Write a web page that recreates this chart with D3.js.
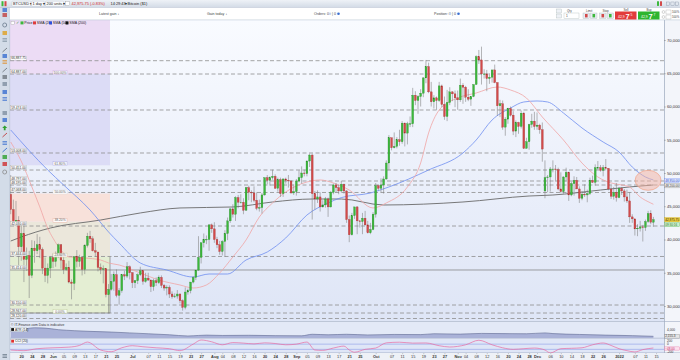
<!DOCTYPE html>
<html><head><meta charset="utf-8">
<script src="https://cdn.jsdelivr.net/npm/d3@7"></script>
<style>
html,body{margin:0;padding:0;background:#fff;}
svg{display:block;font-family:"Liberation Sans",Arial,sans-serif;}
</style></head><body>
<svg id="chart" width="680" height="360"></svg>
<script>
// ---------------- DATA ----------------
const firstCandle = "2021-05-16";   // daily candles, one per calendar day
const opens = [
46800,44500,42700,42900,38900,40900,37000,37600,34600,38700,38300,39200,38500,35700,34600,35700,
37300,36700,37600,39200,36900,35500,35800,33600,33400,37400,36700,37300,35500,39100,40500,40100,38300,38100,35800,35500,35600,31700,32500,33700,34700,31600,32300,34700,34500,35900,
35000,33500,33800,34700,35300,33700,34200,33900,32900,33800,33500,34300,33100,32700,32800,31800,31400,31500,31800,30800,29800,32100,32300,33600,34300,35400,37300,39500,40000,40000,42200,
41600,40000,39200,38200,39700,40900,42800,44600,43800,46300,45600,45600,44400,47800,47100,47000,45900,44700,44800,46700,49300,48900,49300,49500,47700,49000,46900,49100,48900,48800,47000,
47200,48800,49300,50000,49900,51800,52700,46900,46100,46400,44900,45200,46100,44900,47100,48200,47800,47300,48300,47300,43000,40700,43600,44900,42800,42700,43200,42200,41000,41500,
43800,48100,47700,48200,49100,51500,55300,53800,54000,55000,54700,57500,56000,57400,57400,61700,60900,61500,62000,64300,66000,62200,60700,61300,60900,63100,60300,58500,60600,62200,61900,
61300,61000,63200,62900,61400,61100,61500,63300,67500,67000,64900,64900,64200,64400,65500,63600,60100,60400,56900,58100,59700,58700,56300,57600,57000,59000,53700,54700,57300,57800,
57000,57200,56500,47300,49300,49400,50600,50600,50500,47600,47200,49400,50100,46700,48400,48900,47600,46200,46800,46700,46900,48900,48600,50800,50800,50400,50800,50700,47600,46500,47100,
46300,47700,47300,46400,45800,43400,43100,41600,41700,41900,41800,42700,43900,42600];
const highs = [
49700,46000,45800,43500,42400,42200,38800,38300,39900,39800,40800,40400,38800,37300,36400,37500,
37900,38200,39400,39300,37900,36400,36800,34000,37500,38400,37700,37500,39300,41000,41300,40500,39500,38200,36400,36100,35700,33300,34800,35200,35500,32700,34700,35300,36600,36100,
35100,33900,34900,35900,35400,35000,35000,34000,34100,34300,34600,34600,33300,33100,33100,32200,31900,32400,31900,31000,32800,32600,33600,34500,35400,40500,39500,40900,40600,42300,42400,
42600,40400,39800,39900,41400,43300,44700,45300,46500,46700,46800,46200,47900,48100,47400,48000,47100,46000,47000,49300,49700,49500,50500,49800,49300,49300,49200,49300,49700,48900,48300,
49100,50400,51000,50500,51900,52900,52900,47300,47400,47100,45900,46400,46300,47300,48400,48500,48200,48800,48400,47400,43600,44000,44900,45000,42900,44000,44300,42800,42500,44100,
48500,48300,49200,49500,51900,55700,55300,56100,55400,56500,57800,57600,57700,58500,62800,62300,61700,62600,64400,67000,66600,63700,61700,61500,63700,63300,61500,62500,62900,62300,62400,
62400,64200,63500,63100,62600,61500,63300,67700,68500,69000,65600,65500,65000,65500,66300,63600,61000,60900,58400,59800,60000,59300,57900,57700,59400,59200,55300,57400,58900,59200,
59100,57400,57600,51900,49700,50900,51900,51200,50800,50100,49500,50800,50200,48700,49500,49400,48000,47300,48300,47500,49300,49600,51300,51800,51200,51200,52100,50700,48100,47900,48500,
47900,47900,47600,47500,47100,43800,43100,42300,42800,42200,43000,44300,44400,43400];
const lows = [
43800,42100,42200,35800,36800,33600,35300,31200,34200,36500,37800,37200,34800,33600,33400,34200,
35700,35900,37200,35600,34800,35300,33400,31000,32400,35800,35900,34600,34800,38800,39500,38200,37400,35200,34800,33400,31300,28900,32300,32300,31300,30200,32000,33900,34200,34000,
32700,32700,33300,34500,33200,33500,33800,32100,32300,33000,33300,32700,32300,31600,31200,31100,31200,31100,30400,29300,29500,31700,31900,33400,33900,35300,36400,38800,39300,38300,41000,
39500,38700,37700,37600,37400,39900,42500,43300,42800,44700,45400,43800,44300,45900,45600,45600,44400,44200,43900,46600,48300,48100,49000,47600,47200,46400,46400,48400,47800,46900,46700,
46600,48600,48400,49500,49500,50900,43000,44500,45500,44200,44800,44800,43400,44800,46800,47100,46800,47100,46900,42500,39600,40600,43100,40800,41800,40800,42100,40900,40800,41400,
43300,47400,47100,46900,49000,50400,53400,53700,53700,54100,54400,54000,54300,56900,56900,60200,58900,60000,61400,63500,62000,60000,59700,59500,60700,59900,58000,57800,60200,60800,59900,
59500,60700,60400,60700,60800,60100,61400,63300,66400,63300,64200,62300,63400,63600,63500,58600,58400,56500,55600,57400,58500,55700,55400,55900,56700,53600,53700,53500,56800,56500,
56500,55900,51700,46200,47100,47200,50100,48700,47400,47000,46900,48700,45800,46500,46600,47600,45500,45900,46400,45600,46700,48500,48100,50500,50200,49500,50500,47400,46100,46000,45700,
46200,46700,45700,45500,42500,42500,40600,40500,41200,39700,41300,42500,42300,41900];
const closes = [
44500,42700,42900,38900,40900,37000,37600,34600,38700,38300,39200,38500,35700,34600,35700,37300,
36700,37600,39200,36900,35500,35800,33600,33400,37400,36700,37300,35500,39100,40500,40100,38300,38100,35800,35500,35600,31700,32500,33700,34700,31600,32300,34700,34500,35900,35000,
33500,33800,34700,35300,33700,34200,33900,32900,33800,33500,34300,33100,32700,32800,31800,31400,31500,31800,30800,29800,32100,32300,33600,34300,35400,37300,39500,40000,40000,42200,41600,
40000,39200,38200,39700,40900,42800,44600,43800,46300,45600,45600,44400,47800,47100,47000,45900,44700,44800,46700,49300,48900,49300,49500,47700,49000,46900,49100,48900,48800,47000,47200,
48800,49300,50000,49900,51800,52700,46900,46100,46400,44900,45200,46100,44900,47100,48200,47800,47300,48300,47300,43000,40700,43600,44900,42800,42700,43200,42200,41000,41500,43800,
48100,47700,48200,49100,51500,55300,53800,54000,55000,54700,57500,56000,57400,57400,61700,60900,61500,62000,64300,66000,62200,60700,61300,60900,63100,60300,58500,60600,62200,61900,61300,
61000,63200,62900,61400,61100,61500,63300,67500,67000,64900,64900,64200,64400,65500,63600,60100,60400,56900,58100,59700,58700,56300,57600,57000,59000,53700,54700,57300,57800,57000,
57200,56500,53600,49300,49400,50600,50600,50500,47600,47200,49400,50100,46700,48400,48900,47600,46200,46800,46700,46900,48900,48600,50800,50800,50400,50800,50700,47600,46500,47100,46300,
47700,47300,46400,45800,43400,43100,41600,41700,41900,41800,42700,43900,42600,42975.75];

// moving averages
const sma20Dates = ["2021-05-16","2021-05-21","2021-05-23","2021-05-27","2021-05-30","2021-06-01","2021-06-04","2021-06-07","2021-06-13","2021-06-19","2021-06-22","2021-06-26","2021-07-04","2021-07-11","2021-07-19","2021-07-24","2021-07-29","2021-08-03","2021-08-08","2021-08-13","2021-08-18","2021-08-23","2021-08-28","2021-09-05","2021-09-10","2021-09-15","2021-09-21","2021-09-30","2021-10-05","2021-10-13","2021-10-18","2021-10-21","2021-10-25","2021-11-01","2021-11-08","2021-11-16","2021-11-21","2021-11-27","2021-12-03","2021-12-11","2021-12-18","2021-12-24","2021-12-29","2022-01-02","2022-01-05","2022-01-09","2022-01-13","2022-01-14"];
const sma20 = [54660,50900,48900,44900,41700,40200,38420,37370,37220,36920,36470,36170,34960,33910,33160,32710,33160,34960,37370,39930,43380,45490,47140,48650,48950,48500,47440,44740,45490,47900,51500,56020,59470,61280,62030,62930,62480,61280,58420,54960,51500,49400,48500,48200,47900,46390,45490,45300];
const sma50Dates = ["2021-05-16","2021-05-30","2021-06-05","2021-06-15","2021-06-22","2021-06-26","2021-07-04","2021-07-14","2021-07-24","2021-07-30","2021-08-06","2021-08-13","2021-08-21","2021-08-28","2021-09-05","2021-09-13","2021-09-18","2021-09-29","2021-10-06","2021-10-21","2021-11-03","2021-11-08","2021-11-14","2021-11-21","2021-11-26","2021-12-01","2021-12-05","2021-12-11","2021-12-18","2021-12-26","2022-01-01","2022-01-06","2022-01-11","2022-01-14"];
const sma50 = [56470,50450,48200,44440,41130,39470,36470,35410,34360,34810,34810,36920,38120,40230,43680,45490,46300,46990,47900,50450,53010,54960,57970,59770,60680,60830,60680,59020,56770,54660,53160,50900,49400,48950];
const sma200Dates = ["2021-05-16","2021-05-20","2021-05-31","2021-06-19","2021-07-04","2021-07-19","2021-08-08","2021-08-23","2021-09-07","2021-09-18","2021-10-04","2021-11-03","2021-11-28","2021-12-07","2021-12-25","2022-01-05","2022-01-14"];
const sma200 = [39770,40380,41730,42930,43990,44740,44890,45640,46090,46090,45190,45640,46540,46690,47440,47900,48200];

const atrDates = ["2021-05-16","2021-05-19","2021-05-22","2021-05-25","2021-05-29","2021-06-03","2021-06-09","2021-06-15","2021-06-23","2021-06-30","2021-07-07","2021-07-15","2021-07-22","2021-07-26","2021-07-29","2021-08-04","2021-08-14","2021-08-24","2021-09-03","2021-09-07","2021-09-13","2021-09-20","2021-09-28","2021-10-08","2021-10-18","2021-10-23","2021-11-02","2021-11-10","2021-11-17","2021-11-27","2021-12-04","2021-12-07","2021-12-17","2021-12-27","2022-01-06","2022-01-14"];
const atr = [3600,3900,4400,4650,4550,4100,3800,3600,3400,3150,2900,2600,2250,2400,2500,2400,2450,2350,2300,2750,2600,2750,2550,2700,2650,2900,2800,3000,2950,2900,3150,2950,2700,2500,2350,2155.3];
const cciDates = ["2021-05-16","2021-05-21","2021-05-26","2021-06-01","2021-06-07","2021-06-11","2021-06-14","2021-06-19","2021-06-23","2021-06-27","2021-07-01","2021-07-05","2021-07-10","2021-07-15","2021-07-19","2021-07-24","2021-07-27","2021-07-31","2021-08-04","2021-08-08","2021-08-12","2021-08-16","2021-08-20","2021-08-24","2021-08-28","2021-09-01","2021-09-05","2021-09-08","2021-09-11","2021-09-15","2021-09-19","2021-09-21","2021-09-23","2021-09-27","2021-10-01","2021-10-05","2021-10-10","2021-10-15","2021-10-20","2021-10-25","2021-10-29","2021-11-04","2021-11-09","2021-11-14","2021-11-18","2021-11-22","2021-11-26","2021-11-30","2021-12-04","2021-12-06","2021-12-10","2021-12-14","2021-12-18","2021-12-22","2021-12-26","2021-12-29","2022-01-01","2022-01-04","2022-01-07","2022-01-10","2022-01-14"];
const cci = [-125,-150,-75,-40,-15,50,180,-125,-190,-40,40,0,-40,-75,-150,100,260,190,75,160,140,110,150,125,75,100,180,-125,-140,-50,25,-125,-210,-100,-50,150,175,140,145,40,-10,75,250,75,-40,-100,-75,-50,-125,-240,-75,-60,-40,75,145,50,-75,-150,-200,-110,-48];

// horizontal levels drawn on the chart
const levelValues = [66887.75,64887.00,59474.00,53008.00,50451.00,48797.00,48195.00,47068.00,42030.00,37444.00,30150.00,28947.00,28120.00];
const solidLevel = [35414.00];
const fibValues = [28947,37429,42676,46917,51158,64887];
const fibLabels = ["0.00%","23.60%","38.20%","50.00%","61.80%","100.00%"];
const fibColors = ["#e4eed3","#ebe7db","#f8e1da",null,"#dcdcf6","#ecdcf5"];
const fibStroke = ["#b8c890","#cfc39a","#eab0a0","#ddd","#a8a8e0","#c8a8e0"];
const fibStart = "2021-05-16", fibEnd = "2021-06-22";

const priceTicks = [30000,35000,40000,45000,50000,55000,60000,65000,70000];
const xTickDates = ["2021-05-20","2021-05-24","2021-05-28","2021-06-01","2021-06-05","2021-06-09","2021-06-13","2021-06-17","2021-06-21","2021-06-25","2021-07-01","2021-07-07","2021-07-11","2021-07-15","2021-07-19","2021-07-23","2021-07-27","2021-08-01","2021-08-04","2021-08-08","2021-08-12","2021-08-16","2021-08-20","2021-08-24","2021-08-28","2021-09-01","2021-09-05","2021-09-09","2021-09-13","2021-09-17","2021-09-21","2021-09-25","2021-10-01","2021-10-07","2021-10-11","2021-10-15","2021-10-19","2021-10-23","2021-10-27","2021-11-01","2021-11-04","2021-11-08","2021-11-12","2021-11-16","2021-11-20","2021-11-24","2021-11-28","2021-12-01","2021-12-06","2021-12-10","2021-12-14","2021-12-18","2021-12-22","2021-12-26","2022-01-01","2022-01-07","2022-01-11","2022-01-15"];
const xTickLabels = ["20","24","28","Jun","05","09","13","17","21","25","Jul","07","11","15","19","23","27","Aug","04","08","12","16","20","24","28","Sep","05","09","13","17","21","25","Oct","07","11","15","19","23","27","Nov","04","08","12","16","20","24","28","Dec","06","10","14","18","22","26","2022","07","11","15"];
const highlight = {date:"2022-01-12", value:48900};

// ---------------- DRAWING ----------------
const parse = d3.utcParse("%Y-%m-%d");
const svg = d3.select("#chart");
const defs = svg.append("defs");
const P = {x0:10, x1:664, y0:20, y1:321};

const g1 = defs.append("linearGradient").attr("id","plotbg").attr("x1",0).attr("y1",0).attr("x2",0).attr("y2",1);
g1.append("stop").attr("offset","0%").attr("stop-color","#f9fbff");
g1.append("stop").attr("offset","100%").attr("stop-color","#dee5f6");
const g2 = defs.append("linearGradient").attr("id","topbg").attr("x1",0).attr("y1",0).attr("x2",0).attr("y2",1);
g2.append("stop").attr("offset","0%").attr("stop-color","#eef2f7");
g2.append("stop").attr("offset","100%").attr("stop-color","#d3dbe6");
defs.append("clipPath").attr("id","clip").append("rect").attr("x",P.x0).attr("y",P.y0).attr("width",P.x1-P.x0).attr("height",P.y1-P.y0);
defs.append("clipPath").attr("id","clipL").append("rect").attr("x",P.x0).attr("y",322).attr("width",P.x1-P.x0).attr("height",31);

const t0 = parse(firstCandle);
const candles = opens.map((o,i)=>({d:d3.utcDay.offset(t0,i),o,h:highs[i],l:lows[i],c:closes[i]}));
const x = d3.scaleUtc().domain([parse("2021-05-16"),parse("2022-01-14")]).range([10.7,653.4]);
const y = d3.scaleLinear().domain([30000,70000]).range([306,40]);
const yAtr = d3.scaleLinear().domain([2155.3,4000]).range([336.3,330]);
const yCci = d3.scaleLinear().domain([-100,100]).range([349.35,344.15]);

// page frame
svg.append("rect").attr("width",680).attr("height",360).attr("fill","#e9edf4");
svg.append("rect").attr("x",P.x0).attr("y",P.y0).attr("width",P.x1-P.x0).attr("height",P.y1-P.y0).attr("fill","url(#plotbg)");

// fib zones
const fx0 = x(parse(fibStart))-0.7, fx1 = 110;
const fibG = svg.append("g");
const zoneTops = fibValues.map((v,i)=> i<fibValues.length-1 ? y(fibValues[i+1]) : P.y0);
fibValues.forEach((v,i)=>{
  if(!fibColors[i]) return;
  fibG.append("rect").attr("x",fx0).attr("y",zoneTops[i]).attr("width",fx1-fx0).attr("height",y(v)-zoneTops[i]).attr("fill",fibColors[i]);
});
fibG.append("path").attr("d",`M${fx0},${y(fibValues[0])}H${fx1}V${y(fibValues[1])}`).attr("fill","none").attr("stroke","#6d6d6d").attr("stroke-width",0.6);

// level lines
const lg = svg.append("g");
lg.selectAll("line.lv").data(levelValues).join("line")
  .attr("x1",P.x0).attr("x2",P.x1).attr("y1",d=>y(d)).attr("y2",d=>y(d))
  .attr("stroke","#8e8e8e").attr("stroke-width",0.8).attr("stroke-dasharray","4,2.5");
lg.selectAll("line.sl").data(solidLevel).join("line")
  .attr("x1",P.x0).attr("x2",P.x1).attr("y1",d=>y(d)).attr("y2",d=>y(d))
  .attr("stroke","#7a7a7a").attr("stroke-width",0.7);

// moving averages
const mk = (dates,vals)=>dates.map((d,i)=>({d:parse(d),v:vals[i]}));
const line = d3.line().x(d=>x(d.d)).y(d=>y(d.v)).curve(d3.curveMonotoneX);
const cg = svg.append("g").attr("clip-path","url(#clip)");
cg.append("path").datum(mk(sma200Dates,sma200)).attr("d",line).attr("fill","none").attr("stroke","#6a6a6a").attr("stroke-width",0.9);
cg.append("path").datum(mk(sma50Dates,sma50)).attr("d",line).attr("fill","none").attr("stroke","#6f8ef0").attr("stroke-width",0.8);
cg.append("path").datum(mk(sma20Dates,sma20)).attr("d",line).attr("fill","none").attr("stroke","#f0a4a4").attr("stroke-width",0.8);

// candles
const bw = 1.8;
cg.selectAll("line.wick").data(candles).join("line")
  .attr("x1",d=>x(d.d)).attr("x2",d=>x(d.d)).attr("y1",d=>y(d.h)).attr("y2",d=>y(d.l))
  .attr("stroke","#7b7b7b").attr("stroke-width",0.55);
cg.selectAll("rect.body").data(candles).join("rect")
  .attr("x",d=>x(d.d)-bw/2).attr("y",d=>y(Math.max(d.o,d.c)))
  .attr("width",bw).attr("height",d=>Math.max(0.5,Math.abs(y(d.o)-y(d.c))))
  .attr("fill",d=>d.c>=d.o?"#3cb83c":"#d24a4a")
  .attr("stroke",d=>d.c>=d.o?"#268a26":"#a53030").attr("stroke-width",0.3);

// highlight ellipse
svg.append("ellipse").attr("cx",x(parse(highlight.date))).attr("cy",y(highlight.value)).attr("rx",13).attr("ry",10)
  .attr("fill","rgba(247,180,160,0.5)").attr("stroke","#f0a488").attr("stroke-width",0.7);

// left level labels
const lab = svg.append("g").attr("font-size",3.3).attr("fill","#333");
[...levelValues,...solidLevel].forEach(v=>{
  const yy = y(v)-2.6;
  lab.append("rect").attr("x",10.5).attr("y",yy-2).attr("width",16).attr("height",4).attr("fill","#fff").attr("stroke","#9a9a9a").attr("stroke-width",0.3);
  lab.append("text").attr("x",11.2).attr("y",yy+1.2).text(d3.format(",.2f")(v));
});
fibValues.forEach((v,i)=>{
  const yy = y(v)-1.5;
  lab.append("rect").attr("x",53).attr("y",yy-2).attr("width",14).attr("height",4).attr("fill","rgba(255,255,255,0.85)").attr("stroke",fibStroke[i]).attr("stroke-width",0.4);
  lab.append("text").attr("x",60).attr("y",yy+1.2).attr("text-anchor","middle").attr("fill","#666").text(fibLabels[i]);
});

// legend
const leg = svg.append("g").attr("font-size",3.6).attr("fill","#222");
leg.append("rect").attr("x",11).attr("y",21.3).attr("width",3.2).attr("height",3.2).attr("fill","#fff").attr("stroke","#888").attr("stroke-width",0.3);
leg.append("text").attr("x",15.6).attr("y",24.4).attr("fill","#4a9a4a").text("✓");
[["Price","#3cb83c",20.5],["SMA (20)","#e03c3c",33],["SMA (50)","#2f4fe0",49],["SMA (200)","#111",65.5]].forEach(([t,c,xx])=>{
  leg.append("rect").attr("x",xx).attr("y",21.4).attr("width",3).attr("height",3).attr("fill",c);
  leg.append("text").attr("x",xx+3.8).attr("y",24.4).text(t);
});

// right axis strip
svg.append("rect").attr("x",P.x1).attr("y",P.y0).attr("width",16).attr("height",333).attr("fill","#f3f5fa");
const ra = svg.append("g").attr("transform",`translate(${P.x1},0)`)
  .call(d3.axisRight(y).tickValues(priceTicks).tickSize(1.8).tickPadding(1.2).tickFormat(d3.format(",")));
ra.select(".domain").attr("stroke","#9aa7bb").attr("stroke-width",0.7).attr("d",`M0.5,${P.y0}V${353}`);
ra.selectAll(".tick line").attr("stroke","#666").attr("stroke-width",0.4);
ra.selectAll("text").attr("font-size",4.2).attr("fill","#333").attr("font-family","Liberation Sans, Arial, sans-serif");

function axisTag(yy,txt,fill,stroke,col,h){
  h = h||4.2;
  const gg = svg.append("g");
  gg.append("rect").attr("x",P.x1+0.8).attr("y",yy-h/2).attr("width",15).attr("height",h).attr("fill",fill).attr("stroke",stroke).attr("stroke-width",0.35);
  gg.append("text").attr("x",P.x1+1.3).attr("y",yy+1.1).attr("font-size",3.05).attr("fill",col).text(txt);
}
axisTag(y(sma50[sma50.length-1])+0.5,d3.format(",.2f")(sma50[sma50.length-1]),"#e6ecff","#6f8ef0","#2a48c8");
axisTag(y(sma200[sma200.length-1])+0.8,d3.format(",.2f")(sma200[sma200.length-1]),"#efefef","#888","#333");
const lastC = closes[closes.length-1];
axisTag(y(lastC),d3.format(",.2f")(lastC),"#f2d038","#c9a810","#222");
axisTag(y(lastC)+5,"09:30:16","#cdeecd","#5cb85c","#2a7a2a");

// lower panes
svg.append("rect").attr("x",P.x0).attr("y",322).attr("width",P.x1-P.x0).attr("height",16).attr("fill","#e3e9f7");
svg.append("rect").attr("x",P.x0).attr("y",338.5).attr("width",P.x1-P.x0).attr("height",14.5).attr("fill","#dfe6f7");
[321.5,338.2,352.8].forEach(yy=>svg.append("line").attr("x1",P.x0).attr("x2",680).attr("y1",yy).attr("y2",yy).attr("stroke","#9fabc2").attr("stroke-width",0.6));
const lo = svg.append("g").attr("clip-path","url(#clipL)");
const atrArea = d3.area().x(d=>x(d.d)).y0(338).y1(d=>yAtr(d.v)).curve(d3.curveMonotoneX);
lo.append("path").datum(mk(atrDates,atr)).attr("d",atrArea).attr("fill","#aab2d8");
lo.append("path").datum(mk(atrDates,atr)).attr("d",d3.line().x(d=>x(d.d)).y(d=>yAtr(d.v)).curve(d3.curveMonotoneX)).attr("fill","none").attr("stroke","#5d6690").attr("stroke-width",0.6);
[100,-100].forEach(v=>lo.append("line").attr("x1",P.x0).attr("x2",P.x1).attr("y1",yCci(v)).attr("y2",yCci(v)).attr("stroke","#8c9be6").attr("stroke-width",0.6));
lo.append("path").datum(mk(cciDates,cci)).attr("d",d3.line().x(d=>x(d.d)).y(d=>yCci(d.v)).curve(d3.curveMonotoneX)).attr("fill","none").attr("stroke","#e86aa0").attr("stroke-width",0.7);

const lt = svg.append("g").attr("font-size",3.4).attr("fill","#333");
lt.append("text").attr("x",11).attr("y",326.3).text("© IT-Finance.com   Data is indicative");
[[329.5,"ATR (14)","#111"],[341.2,"CCI (20)","#e03030"]].forEach(([yy,t,c])=>{
  lt.append("rect").attr("x",10.5).attr("y",yy-2.1).attr("width",16).attr("height",4.2).attr("fill","#f4f6fb").attr("stroke","#9aa").attr("stroke-width",0.3);
  lt.append("rect").attr("x",11.2).attr("y",yy-1.4).attr("width",2.8).attr("height",2.8).attr("fill",c);
  lt.append("text").attr("x",15).attr("y",yy+1.2).text(t);
});
const rt = svg.append("g").attr("font-size",3.2).attr("fill","#333");
rt.append("text").attr("x",667).attr("y",yAtr(4000)+1.1).text("4,000");
axisTag(yAtr(atr[atr.length-1]),d3.format(",.1f")(atr[atr.length-1]),"#e6e6e6","#888","#333",3.6);
rt.append("text").attr("x",667).attr("y",342.2).text("200");
rt.append("text").attr("x",667).attr("y",345.4).text("0");
rt.append("text").attr("x",667).attr("y",353.2).text("-200");
axisTag(348.5,d3.format(".2f")(cci[cci.length-1]),"#fde2ee","#e86aa0","#c0306a",3.2);

// time axis
svg.append("rect").attr("x",0).attr("y",353).attr("width",680).attr("height",7).attr("fill","#eef1f7");
const xa = svg.append("g").attr("transform","translate(0,353)")
  .call(d3.axisBottom(x).tickValues(xTickDates.map(parse)).tickSize(1.2).tickPadding(0.6).tickFormat((d,i)=>xTickLabels[i]));
xa.select(".domain").remove();
xa.selectAll(".tick line").attr("stroke","#888").attr("stroke-width",0.4);
xa.selectAll("text").attr("font-size",3.9).attr("fill","#333").attr("font-family","Liberation Sans, Arial, sans-serif")
  .attr("font-weight",(d,i)=>/^[A-Z2]/.test(xTickLabels[i])?"bold":"normal");

// left toolbar
svg.append("rect").attr("x",0).attr("y",7.5).attr("width",9.6).attr("height",352.5).attr("fill","#d3dce8");
svg.append("line").attr("x1",9.7).attr("x2",9.7).attr("y1",7.5).attr("y2",360).attr("stroke","#a9b6c8").attr("stroke-width",0.5);
const tools = [[10,"#3a6fd0","sq"],[15,"#c04040","sq"],[25,"#6a7a8c","circ"],[33,"#e0a020","sq"],[40,"#8090a0","lines"],[50,"#707880","diag"],[56,"#3a6fd0","sq"],[62,"#e09030","lines"],[70,"#707880","diag"],[77,"#707880","sq"],[84,"#8090a0","sq"],[92,"#3a6fd0","sq"],[99,"#3a6fd0","lines"],[113,"#8090a0","sq"],[120,"#3a6fd0","sq"],[128,"#2ea02e","arrow"],[135,"#c04040","diag"],[143,"#3a6fd0","lines"],[150,"#3a6fd0","diag"],[157,"#2ea02e","sq"],[164,"#d03030","sq"],[172,"#8a8a8a","circ"],[356,"#607080","lines"]];
const tg = svg.append("g");
tools.forEach(([yy,c,s])=>{
  if(s==="sq") tg.append("rect").attr("x",2.5).attr("y",yy-2).attr("width",4.5).attr("height",4).attr("fill",c).attr("opacity",0.8);
  else if(s==="circ") tg.append("circle").attr("cx",4.7).attr("cy",yy).attr("r",2).attr("fill","none").attr("stroke",c).attr("stroke-width",0.8);
  else if(s==="lines") tg.append("path").attr("d",`M2.5,${yy-1.5}H7M2.5,${yy}H7M2.5,${yy+1.5}H7`).attr("stroke",c).attr("stroke-width",0.7);
  else if(s==="diag") tg.append("path").attr("d",`M2.5,${yy+2}L7,${yy-2}`).attr("stroke",c).attr("stroke-width",0.9);
  else if(s==="arrow") tg.append("path").attr("d",`M4.7,${yy-2.5}L7.2,${yy}H5.6V${yy+2.2}H3.8V${yy}H2.2Z`).attr("fill",c);
});

// top toolbar row
svg.append("rect").attr("x",0).attr("y",0).attr("width",680).attr("height",7.5).attr("fill","url(#topbg)");
svg.append("line").attr("x1",0).attr("x2",680).attr("y1",7.5).attr("y2",7.5).attr("stroke","#aeb9c9").attr("stroke-width",0.5);
const tb = svg.append("g").attr("font-size",3.9).attr("fill","#222");
tb.append("rect").attr("x",1.5).attr("y",1.2).attr("width",2).attr("height",5).attr("fill","#3cb83c");
tb.append("rect").attr("x",4.5).attr("y",1.2).attr("width",2).attr("height",5).attr("fill","#d24a4a");
[[12,18.5,"BTCUSD ▾"],[31.5,12.5,"1 day ▾"],[45.5,18,"200 units ▾"]].forEach(([xx,w,t])=>{
  tb.append("rect").attr("x",xx).attr("y",1.2).attr("width",w).attr("height",5).attr("fill","#fbfcfe").attr("stroke","#a8b2c0").attr("stroke-width",0.3).attr("rx",0.6);
  tb.append("text").attr("x",xx+1).attr("y",5).text(t);
});
tb.append("rect").attr("x",65.5).attr("y",1.6).attr("width",4).attr("height",4).attr("fill","#fff").attr("stroke","#888").attr("stroke-width",0.3);
tb.append("text").attr("x",71.5).attr("y",5).attr("fill","#d02a2a").text("42,975.75 (-0.83%)");
tb.append("text").attr("x",110.5).attr("y",5).text("14:29:43");
tb.append("text").attr("x",124.5).attr("y",5).text("▾ Bitcoin ($1)");
tb.append("rect").attr("x",657).attr("y",1.3).attr("width",2).attr("height",4.6).attr("fill","#3cb83c");
tb.append("rect").attr("x",660).attr("y",1.3).attr("width",2).attr("height",4.6).attr("fill","#d24a4a");
[668,672.5,677].forEach(xx=>tb.append("rect").attr("x",xx-1.6).attr("y",2).attr("width",3.2).attr("height",3.2).attr("fill","none").attr("stroke","#8895a8").attr("stroke-width",0.4));

// trade row
svg.append("rect").attr("x",9.8).attr("y",7.8).attr("width",670.2).attr("height",12).attr("fill","#fff");
svg.append("line").attr("x1",9.8).attr("x2",680).attr("y1",19.9).attr("y2",19.9).attr("stroke","#b7c3d3").attr("stroke-width",0.5);
const tr = svg.append("g").attr("font-size",3.6).attr("fill","#444");
tr.append("text").attr("x",99).attr("y",15).text("Latest gain ↓");
tr.append("text").attr("x",207).attr("y",15).text("Gain today ↓");
tr.append("text").attr("x",314).attr("y",15).text("Orders: 0");
tr.append("text").attr("x",434).attr("y",15).text("Position: 0");
[[331.5,"| 0"],[451.5,"| 0"]].forEach(([xx,t])=>{
  tr.append("circle").attr("cx",xx-1.5).attr("cy",13.8).attr("r",1.3).attr("fill","#c8d6f0");
  tr.append("text").attr("x",xx+0.5).attr("y",15).text(t);
  tr.append("circle").attr("cx",xx+7).attr("cy",13.8).attr("r",1.3).attr("fill","#3a6fd0");
});
tr.append("rect").attr("x",556.5).attr("y",9).attr("width",5).attr("height",4).attr("fill","#eef1f6").attr("stroke","#9aa").attr("stroke-width",0.3);
tr.append("rect").attr("x",556.5).attr("y",14).attr("width",5).attr("height",4).attr("fill","#eef1f6").attr("stroke","#9aa").attr("stroke-width",0.3);
tr.append("text").attr("x",567).attr("y",11.6).attr("font-size",3).text("Qty");
tr.append("rect").attr("x",564).attr("y",13).attr("width",15).attr("height",5.2).attr("fill","#fff").attr("stroke","#9aa").attr("stroke-width",0.3);
tr.append("text").attr("x",566).attr("y",17).attr("font-size",3.2).text("1");
[[583,"Limit"],[599.5,"Stop"]].forEach(([xx,t])=>{
  tr.append("text").attr("x",xx+3).attr("y",11.6).attr("font-size",3).text(t);
  tr.append("rect").attr("x",xx).attr("y",13).attr("width",6.5).attr("height",5.5).attr("fill","#e8ecf2").attr("stroke","#9aa").attr("stroke-width",0.3);
  tr.append("rect").attr("x",xx+7.5).attr("y",13).attr("width",6.5).attr("height",5.5).attr("fill","#e8ecf2").attr("stroke","#9aa").attr("stroke-width",0.3);
  tr.append("rect").attr("x",xx+2).attr("y",14).attr("width",2.6).attr("height",3.4).attr("fill","#d24a4a");
  tr.append("rect").attr("x",xx+9.5).attr("y",14).attr("width",2.6).attr("height",3.4).attr("fill","#3cb83c");
});
[[615,"#e23b3b","Sell","42,9","7","5"],[638,"#2fb52f","Buy","42,9","7","7"]].forEach(([xx,c,t,a,b,s])=>{
  tr.append("text").attr("x",xx+11).attr("y",10.8).attr("font-size",3).attr("text-anchor","middle").text(t);
  tr.append("rect").attr("x",xx).attr("y",11.5).attr("width",21.5).attr("height",8).attr("fill",c);
  tr.append("text").attr("x",xx+3).attr("y",17.5).attr("font-size",3.4).attr("fill","#fff").text(a);
  tr.append("text").attr("x",xx+10.5).attr("y",19).attr("font-size",7.5).attr("font-weight","bold").attr("fill","#fff").text(b);
  tr.append("text").attr("x",xx+15.5).attr("y",15.5).attr("font-size",3.4).attr("fill","#fff").text(s);
});
[12,17].forEach(yy=>{
  tr.append("circle").attr("cx",663.5).attr("cy",yy).attr("r",1.4).attr("fill","#fff").attr("stroke","#888").attr("stroke-width",0.35);
  tr.append("rect").attr("x",666).attr("y",yy-2).attr("width",5).attr("height",4).attr("fill","#fff").attr("stroke","#999").attr("stroke-width",0.3);
  tr.append("text").attr("x",672).attr("y",yy+1.2).attr("font-size",2.8).text("100%");
});
</script></body></html>
